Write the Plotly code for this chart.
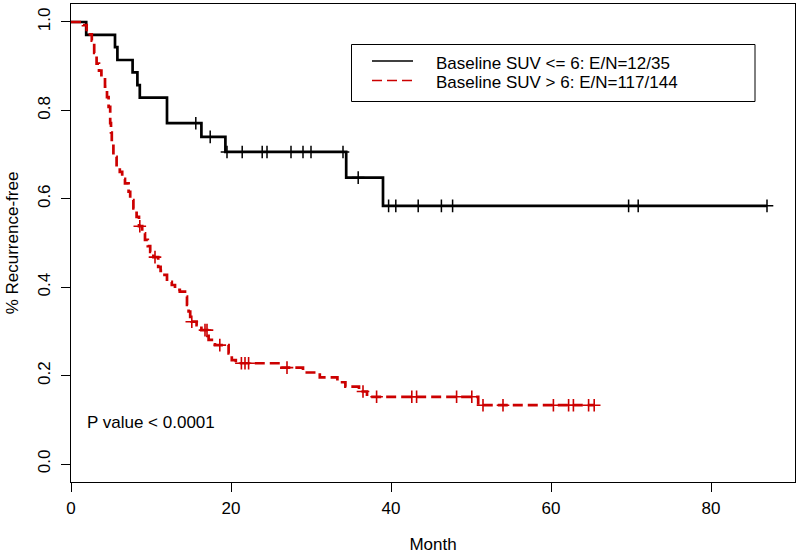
import numpy as np
import plotly.graph_objects as go

# ---------------- data ----------------
# Baseline SUV <= 6 (E/N = 12/35): step times (months) and survival after each step
low_times = [0.0, 1.9, 5.5, 5.8, 7.7, 8.3, 8.6, 12.0, 16.3, 19.3, 34.4, 39.0]
low_surv = [1.0, 0.971, 0.943, 0.914, 0.886, 0.857, 0.829, 0.771, 0.740, 0.706, 0.648, 0.584]
low_censor = [15.6, 17.4, 19.5, 21.4, 23.9, 24.5, 27.5, 29.0, 30.0, 34.0, 35.9,
              39.7, 40.6, 43.4, 46.3, 47.7, 69.7, 70.9, 87.0]

# Baseline SUV > 6 (E/N = 117/144)
high_times = [0.0, 1.5, 1.96, 2.6, 2.9, 3.2, 3.5, 3.8, 4.25, 4.5, 4.7, 4.9, 5.0, 5.1, 5.3,
              5.7, 6.1, 6.4, 6.75, 7.2, 7.4, 7.8, 8.2, 8.5, 8.9, 9.25, 9.6, 9.9, 10.3,
              10.9, 11.2, 11.5, 12.0, 12.6, 13.0, 13.6, 14.25, 14.5, 14.7, 14.9, 15.1,
              15.7, 16.3, 17.05, 17.2, 18.0, 19.7, 20.1, 20.6, 26.3, 29.0, 31.1, 33.3,
              34.3, 36.0, 37.0, 50.9]
high_surv = [1.0, 0.993, 0.972, 0.958, 0.93, 0.906, 0.89, 0.876, 0.854, 0.83, 0.808, 0.771,
             0.75, 0.726, 0.695, 0.673, 0.661, 0.645, 0.635, 0.616, 0.597, 0.578, 0.559,
             0.538, 0.522, 0.507, 0.493, 0.480, 0.468, 0.446, 0.437, 0.428, 0.412, 0.405,
             0.394, 0.390, 0.379, 0.36, 0.345, 0.333, 0.322, 0.314, 0.303, 0.290, 0.281,
             0.269, 0.25, 0.235, 0.228, 0.218, 0.207, 0.196, 0.185, 0.175, 0.164, 0.152,
             0.133]
high_censor = [8.6, 10.5, 15.1, 16.75, 17.0, 18.6, 21.3, 21.75, 22.2, 27.0, 36.5, 38.2,
               42.6, 43.2, 48.2, 50.1, 51.5, 54.0, 60.3, 62.2, 62.8, 64.7, 65.4]

low_name = "Baseline SUV <= 6: E/N=12/35"
high_name = "Baseline SUV > 6: E/N=117/144"
x_ticks = [0, 20, 40, 60, 80]
y_ticks = [0.0, 0.2, 0.4, 0.6, 0.8, 1.0]
y_tick_text = ["0.0", "0.2", "0.4", "0.6", "0.8", "1.0"]
p_text = "P value < 0.0001"

BLACK = "#000000"
RED = "#CC0000"
FONT = "Liberation Sans, Arial, Helvetica, sans-serif"


def step_value(times, surv, t):
    idx = np.searchsorted(np.asarray(times), np.asarray(t), side="right") - 1
    return np.asarray(surv)[idx]


fig = go.Figure()


def add_curve(times, surv, censor, color, dash, width, mwidth):
    end = max(max(times), max(censor))
    xs = list(times) + [end]
    ys = list(surv) + [surv[-1]]
    fig.add_trace(go.Scatter(x=xs, y=ys, mode="lines", line_shape="hv",
                             line=dict(color=color, width=width, dash=dash),
                             showlegend=False, hoverinfo="skip"))
    fig.add_trace(go.Scatter(x=censor, y=step_value(times, surv, censor), mode="markers",
                             marker=dict(symbol="cross-thin", size=9,
                                         line=dict(color=color, width=mwidth)),
                             showlegend=False, hoverinfo="skip"))


add_curve(low_times, low_surv, low_censor, BLACK, "solid", 2.7, 1.5)
add_curve(high_times, high_surv, high_censor, RED, "10px,5px", 2.7, 1.6)

# ---- legend (drawn in paper coordinates, R-style box) ----
L, R_, T, B = 71, 795, 4, 482
W, H = R_ - L, B - T


def px(xp):
    return (xp - L) / W


def py(yp):
    return (B - yp) / H


shapes = [
    dict(type="rect", xref="paper", yref="paper", x0=px(351.5), x1=px(755), y0=py(101.5), y1=py(44.5),
         line=dict(color=BLACK, width=1)),
    dict(type="line", xref="paper", yref="paper", x0=px(372), x1=px(413), y0=py(61), y1=py(61),
         line=dict(color=BLACK, width=1.6)),
    dict(type="line", xref="paper", yref="paper", x0=px(372), x1=px(413), y0=py(80.5), y1=py(80.5),
         line=dict(color=RED, width=1.6, dash="10px,5px")),
]
annotations = [
    dict(text=low_name, xref="paper", yref="paper", x=px(434), y=py(63), xanchor="left",
         yanchor="middle", showarrow=False, font=dict(family=FONT, size=17, color=BLACK)),
    dict(text=high_name, xref="paper", yref="paper", x=px(434), y=py(82.5), xanchor="left",
         yanchor="middle", showarrow=False, font=dict(family=FONT, size=17, color=BLACK)),
    dict(text=p_text, xref="x", yref="y", x=1.75, y=0.093, xanchor="left", yanchor="middle",
         showarrow=False, font=dict(family=FONT, size=17, color=BLACK)),
]

fig.update_layout(
    width=800, height=558,
    margin=dict(l=L, r=800 - R_, t=T, b=558 - B),
    plot_bgcolor="white", paper_bgcolor="white",
    font=dict(family=FONT, size=17, color=BLACK),
    shapes=shapes, annotations=annotations,
    xaxis=dict(range=[0, 90.5], tickvals=x_ticks, ticks="outside", ticklen=9, tickwidth=1,
               tickcolor=BLACK, showline=True, linecolor=BLACK, linewidth=1, mirror=True,
               showgrid=False, zeroline=False, tickfont=dict(size=17), automargin=False,
               ticklabelstandoff=2,
               title=dict(text="Month", font=dict(size=17), standoff=20)),
    yaxis=dict(range=[-0.0407, 1.0407], tickvals=y_ticks, ticktext=y_tick_text, tickangle=-90,
               ticks="outside", ticklen=9, tickwidth=1, tickcolor=BLACK, showline=True,
               linecolor=BLACK, linewidth=1, mirror=True, showgrid=False, zeroline=False,
               tickfont=dict(size=17), automargin=False, ticklabelstandoff=4,
               title=dict(text="% Recurrence-free", font=dict(size=17), standoff=12)),
)

fig.write_html("out.html", config={"displayModeBar": False},
               post_script="document.body.style.margin='0px';document.body.style.overflow='hidden';")
